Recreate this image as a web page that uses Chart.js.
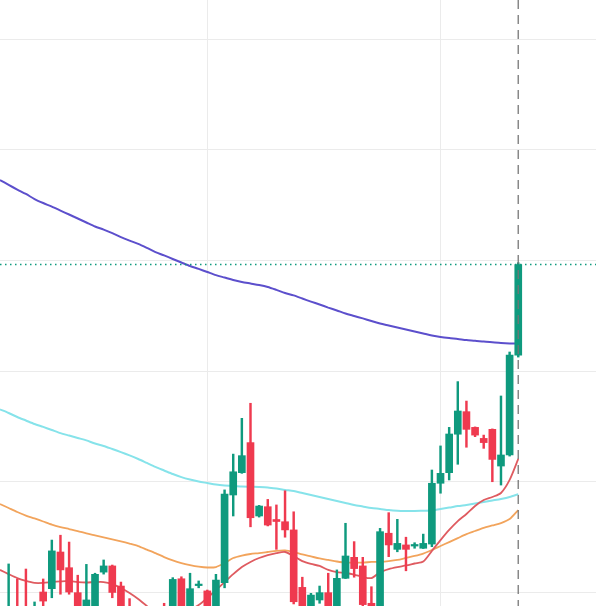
<!DOCTYPE html>
<html>
<head>
<meta charset="utf-8">
<script src="https://cdn.jsdelivr.net/npm/chart.js@4.4.1/dist/chart.umd.min.js"></script>
<style>
html,body{margin:0;padding:0;background:#ffffff;}
#wrap{width:596px;height:606px;position:relative;}
</style>
</head>
<body>
<div id="wrap"><canvas id="c"></canvas></div>
<script>
// ---- data ----
const labels = Array.from({length: 70}, (_, i) => 'D' + (i + 1));

const open = [null,
  9.882, 9.928, 9.923, 9.873, 10.000, 10.015, 10.181, 10.110, 9.997, 9.910,
  9.919, 10.090, 10.118, 10.027, 9.928, 9.882, 9.837, 9.882, 9.919, 9.864,
  10.060, 9.900, 10.029, 10.005, 9.919, 10.042, 10.439, 10.540, 10.676, 10.344,
  10.386, 10.328, 10.318, 10.281, 10.021, 9.910, 9.964, 9.997, 9.910, 10.062,
  10.157, 10.118, 9.949, 9.900, 10.266, 10.193, 10.213, 10.208, 10.198, 10.217,
  10.492, 10.540, 10.714, 10.816, 10.745, 10.695, 10.736, 10.570, 10.620, 11.072];

const high = [null,
  10.127, 10.059, 10.104, 9.955, 10.059, 10.235, 10.257, 10.226, 10.076, 10.125,
  10.085, 10.145, 10.122, 10.045, 9.970, 9.928, 9.910, 9.919, 9.949, 10.065,
  10.069, 10.085, 10.050, 10.009, 10.080, 10.462, 10.624, 10.786, 10.854, 10.392,
  10.419, 10.394, 10.458, 10.363, 10.067, 9.994, 10.027, 10.085, 10.100, 10.311,
  10.228, 10.157, 10.024, 10.288, 10.359, 10.329, 10.248, 10.223, 10.262, 10.552,
  10.661, 10.745, 10.952, 10.864, 10.747, 10.710, 10.738, 10.887, 11.086, 11.490];

const low = [null,
  9.855, 9.864, 9.873, 9.855, 9.910, 9.974, 9.990, 9.990, 9.900, 9.891,
  9.910, 10.081, 9.974, 9.896, 9.851, 9.819, 9.810, 9.828, 9.837, 9.846,
  9.873, 9.882, 10.019, 9.882, 9.900, 10.019, 10.344, 10.537, 10.295, 10.339,
  10.299, 10.193, 10.248, 9.946, 9.896, 9.896, 9.949, 9.891, 9.900, 10.061,
  10.067, 9.928, 9.873, 9.891, 10.160, 10.182, 10.096, 10.198, 10.197, 10.205,
  10.447, 10.507, 10.578, 10.655, 10.703, 10.650, 10.499, 10.484, 10.615, 11.063];

const close = [null,
  9.928, 9.896, 9.900, 9.919, 9.959, 10.186, 10.100, 10.000, 9.919, 9.964,
  10.080, 10.118, 9.998, 9.919, 9.882, 9.846, 9.882, 9.855, 9.864, 10.057,
  9.910, 10.015, 10.036, 9.910, 10.054, 10.443, 10.544, 10.617, 10.336, 10.389,
  10.303, 10.319, 10.281, 9.956, 9.919, 9.986, 9.997, 9.910, 10.062, 10.163,
  10.106, 9.943, 9.910, 10.273, 10.213, 10.220, 10.193, 10.215, 10.220, 10.492,
  10.537, 10.715, 10.819, 10.736, 10.710, 10.676, 10.600, 10.620, 11.072, 11.482];

const ma5 = [
  10.100, 10.081, 10.063, 10.050, 10.041, 10.041, 10.045, 10.048, 10.050, 10.045,
  10.043, 10.045, 10.045, 10.036, 10.018, 9.995, 9.968, 9.937, 9.910, 9.896,
  9.891, 9.900, 9.919, 9.941, 9.973, 10.009, 10.045, 10.081, 10.113, 10.136,
  10.154, 10.167, 10.176, 10.181, 10.163, 10.140, 10.127, 10.118, 10.100, 10.090,
  10.086, 10.079, 10.068, 10.063, 10.090, 10.104, 10.113, 10.120, 10.129, 10.138,
  10.186, 10.235, 10.281, 10.321, 10.353, 10.389, 10.416, 10.430, 10.448, 10.507, 10.602];

const ma10 = [
  10.398, 10.380, 10.362, 10.346, 10.333, 10.319, 10.305, 10.294, 10.285, 10.276,
  10.265, 10.256, 10.247, 10.238, 10.229, 10.219, 10.208, 10.192, 10.176, 10.158,
  10.143, 10.131, 10.122, 10.115, 10.111, 10.113, 10.131, 10.154, 10.165, 10.172,
  10.176, 10.181, 10.186, 10.188, 10.181, 10.170, 10.161, 10.152, 10.145, 10.138,
  10.133, 10.133, 10.133, 10.136, 10.137, 10.140, 10.145, 10.154, 10.163, 10.174,
  10.190, 10.208, 10.226, 10.244, 10.262, 10.276, 10.290, 10.301, 10.312, 10.330, 10.371];

const ma20 = [
  10.826, 10.810, 10.792, 10.776, 10.760, 10.747, 10.733, 10.719, 10.708, 10.697,
  10.686, 10.672, 10.661, 10.647, 10.633, 10.618, 10.602, 10.584, 10.566, 10.550,
  10.534, 10.520, 10.509, 10.500, 10.493, 10.486, 10.482, 10.480, 10.477, 10.476,
  10.475, 10.473, 10.468, 10.462, 10.457, 10.448, 10.439, 10.430, 10.421, 10.412,
  10.403, 10.394, 10.387, 10.380, 10.376, 10.371, 10.368, 10.367, 10.367, 10.368,
  10.369, 10.376, 10.382, 10.389, 10.394, 10.400, 10.407, 10.414, 10.421, 10.430, 10.443];

const ma60 = [
  11.864, 11.842, 11.821, 11.801, 11.778, 11.760, 11.744, 11.726, 11.708, 11.690,
  11.672, 11.654, 11.640, 11.624, 11.606, 11.590, 11.575, 11.557, 11.538, 11.523,
  11.507, 11.491, 11.475, 11.462, 11.448, 11.434, 11.423, 11.412, 11.403, 11.396,
  11.389, 11.380, 11.367, 11.353, 11.342, 11.328, 11.314, 11.301, 11.287, 11.274,
  11.260, 11.249, 11.238, 11.226, 11.215, 11.206, 11.197, 11.188, 11.179, 11.170,
  11.161, 11.154, 11.149, 11.145, 11.140, 11.137, 11.133, 11.130, 11.127, 11.125, 11.124];

const yMin = 9.9367, yMax = 12.6787, yStep = 0.5;
const verticalGridAt = [24, 51];

// ---- styling ----
const UP = '#0f9a7e', DOWN = '#ef3a4f';
const candleColor = open.map((o, i) => (o === null ? 'rgba(0,0,0,0)' : (close[i] >= o ? UP : DOWN)));
const wickData = open.map((o, i) => (o === null ? null : [low[i], high[i]]));
const bodyData = open.map((o, i) => (o === null ? null : [o, close[i]]));

const lastPricePlugin = {
  id: 'lastPrice',
  afterDatasetsDraw(chart) {
    const {ctx, chartArea, scales} = chart;
    const li = close.length - 1;
    const px = scales.x.getPixelForValue(li);
    const py = scales.y.getPixelForValue(close[li]);
    ctx.save();
    ctx.lineWidth = 1.5;
    ctx.strokeStyle = 'rgba(115,115,115,0.85)';
    ctx.setLineDash([9, 6]);
    ctx.beginPath();
    ctx.moveTo(px, chartArea.top);
    ctx.lineTo(px, chartArea.bottom);
    ctx.stroke();
    ctx.strokeStyle = UP;
    ctx.lineWidth = 1.5;
    ctx.setLineDash([1.5, 3.5]);
    ctx.beginPath();
    ctx.moveTo(chartArea.left, py);
    ctx.lineTo(chartArea.right, py);
    ctx.stroke();
    ctx.restore();
  }
};

const lineDs = (data, color, width, order) => ({
  type: 'line', data, borderColor: color, borderWidth: width, pointRadius: 0,
  tension: 0.25, fill: false, order
});

new Chart(document.getElementById('c'), {
  type: 'bar',
  data: {
    labels,
    datasets: [
      { data: bodyData, backgroundColor: candleColor, barThickness: 7, grouped: false, borderWidth: 0, order: 0 },
      { data: wickData, backgroundColor: candleColor, barThickness: 1.8, grouped: false, borderWidth: 0, order: 1 },
      lineDs(ma5, '#df5b60', 1.8, 2),
      lineDs(ma10, '#f2a45c', 1.8, 3),
      lineDs(ma20, '#86e3ea', 2, 4),
      lineDs(ma60, '#5c4fcc', 2, 5)
    ]
  },
  options: {
    responsive: true,
    maintainAspectRatio: false,
    animation: false,
    layout: { padding: 0 },
    plugins: { legend: { display: false }, tooltip: { enabled: false } },
    scales: {
      x: {
        offset: false,
        grid: {
          offset: false,
          drawTicks: false,
          lineWidth: 1,
          color: (c) => (verticalGridAt.includes(c.index) ? '#ebebeb' : 'rgba(0,0,0,0)')
        },
        border: { display: false },
        ticks: { display: false, autoSkip: false }
      },
      y: {
        min: yMin, max: yMax,
        grid: { color: '#ebebeb', drawTicks: false, lineWidth: 1 },
        border: { display: false },
        ticks: { display: false, stepSize: yStep, includeBounds: false }
      }
    }
  },
  plugins: [lastPricePlugin]
});
</script>
</body>
</html>
